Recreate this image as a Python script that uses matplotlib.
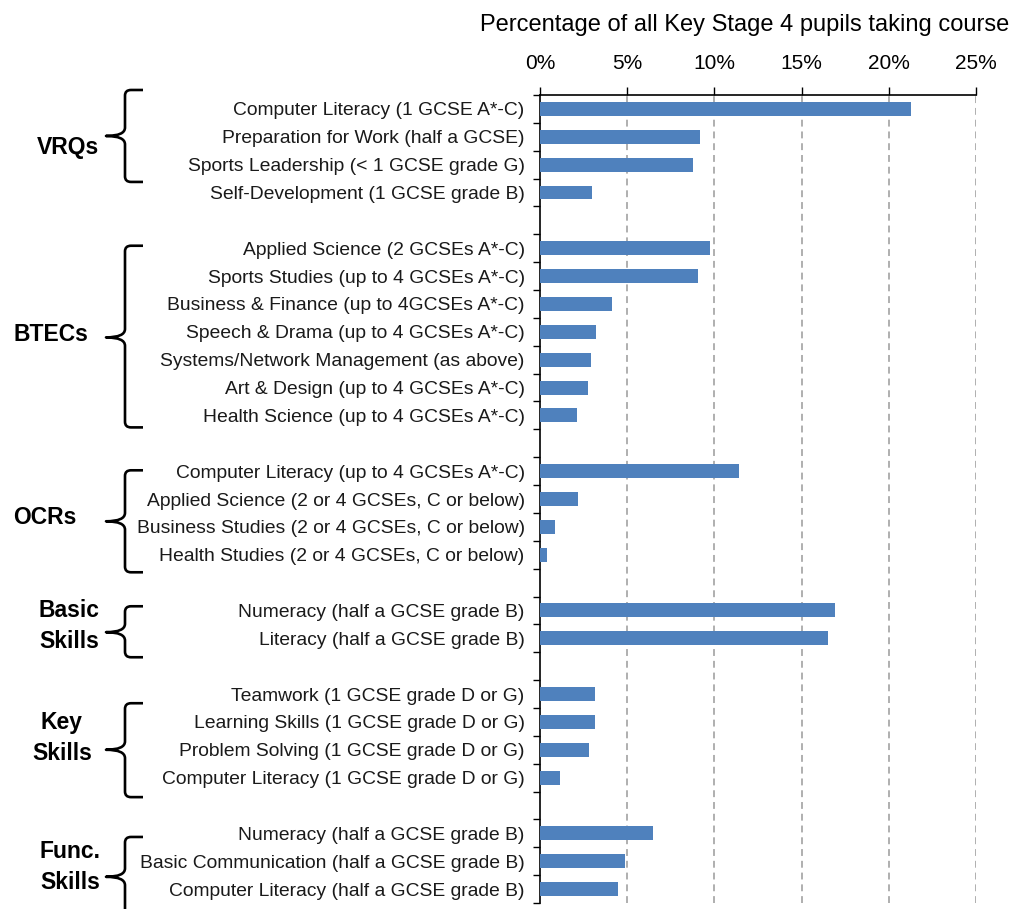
import matplotlib
matplotlib.use("Agg")
import matplotlib.pyplot as plt
from matplotlib.path import Path
from matplotlib.patches import PathPatch
from matplotlib.transforms import blended_transform_factory
from matplotlib.ticker import FuncFormatter, FixedLocator

plt.rcParams['font.family'] = ['Liberation Sans', 'DejaVu Sans']

# Course groups and their courses (top to bottom)
groups = ["VRQs", "BTECs", "OCRs", "Basic\nSkills", "Key\nSkills", "Func.\nSkills"]

vrq_courses = [
    "Computer Literacy (1 GCSE A*-C)",
    "Preparation for Work (half a GCSE)",
    "Sports Leadership (< 1 GCSE grade G)",
    "Self-Development (1 GCSE grade B)",
]
vrq_values = [21.3, 9.2, 8.8, 3.0]

btec_courses = [
    "Applied Science (2 GCSEs A*-C)",
    "Sports Studies (up to 4 GCSEs A*-C)",
    "Business & Finance (up to 4GCSEs A*-C)",
    "Speech & Drama (up to 4 GCSEs A*-C)",
    "Systems/Network Management (as above)",
    "Art & Design (up to 4 GCSEs A*-C)",
    "Health Science (up to 4 GCSEs A*-C)",
]
btec_values = [9.75, 9.05, 4.1, 3.2, 2.9, 2.75, 2.1]

ocr_courses = [
    "Computer Literacy (up to 4 GCSEs A*-C)",
    "Applied Science (2 or 4 GCSEs, C or below)",
    "Business Studies (2 or 4 GCSEs, C or below)",
    "Health Studies (2 or 4 GCSEs, C or below)",
]
ocr_values = [11.4, 2.2, 0.85, 0.4]

basic_courses = [
    "Numeracy (half a GCSE grade B)",
    "Literacy (half a GCSE grade B)",
]
basic_values = [16.9, 16.5]

key_courses = [
    "Teamwork (1 GCSE grade D or G)",
    "Learning Skills (1 GCSE grade D or G)",
    "Problem Solving (1 GCSE grade D or G)",
    "Computer Literacy (1 GCSE grade D or G)",
]
key_values = [3.15, 3.15, 2.8, 1.15]

func_courses = [
    "Numeracy (half a GCSE grade B)",
    "Basic Communication (half a GCSE grade B)",
    "Computer Literacy (half a GCSE grade B)",
]
func_values = [6.5, 4.9, 4.5]

x_ticks = [0, 5, 10, 15, 20, 25]
x_title = "Percentage of all Key Stage 4 pupils taking course"

group_courses = [vrq_courses, btec_courses, ocr_courses,
                 basic_courses, key_courses, func_courses]
group_values = [vrq_values, btec_values, ocr_values,
                basic_values, key_values, func_values]

# Lay the groups out as rows with one empty row between neighbours
positions, labels, values = [], [], []
row = 0
for courses, vals in zip(group_courses, group_values):
    for c, v in zip(courses, vals):
        positions.append(row)
        labels.append(c)
        values.append(v)
        row += 1
    row += 1
n_rows = row - 1

W, H = 1011, 909
fig = plt.figure(figsize=(W / 100, H / 100), dpi=100)
ax = fig.add_axes([540 / W, 1 - 903 / H, 436 / W, 808 / H])

bar_color = "#4F81BD"
ax.barh(positions, values, height=0.5, color=bar_color, zorder=3)

ax.set_xlim(0, 25)
ax.set_ylim(n_rows - 0.5, -0.5)

# x axis on top, percent labels
ax.xaxis.tick_top()
ax.xaxis.set_major_locator(FixedLocator(x_ticks))
ax.xaxis.set_major_formatter(FuncFormatter(lambda v, p: f"{v:.0f}%"))
ax.tick_params(axis="x", which="major", direction="out", length=6, width=1,
               color="black", labelsize=15, pad=10)

# category labels on the left, ticks at row boundaries
ax.set_yticks(positions)
ax.set_yticklabels(labels, fontsize=13.9, color="#1a1a1a")
ax.tick_params(axis="y", which="major", length=0, pad=11)
ax.set_yticks([b - 0.5 for b in range(n_rows + 1)], minor=True)
ax.tick_params(axis="y", which="minor", direction="out", length=5, width=1,
               color="black")

for s in ["right", "bottom"]:
    ax.spines[s].set_visible(False)
for s in ["top", "left"]:
    ax.spines[s].set_color("black")
    ax.spines[s].set_linewidth(1.2)

# dashed vertical gridlines
for t in x_ticks[1:]:
    ax.axvline(t, color="#9a9a9a", lw=1.1, linestyle=(0, (4.5, 3.2)), zorder=1)

fig.text(745 / W, 1 - 25 / H, x_title, ha="center", va="center",
         fontsize=17, color="black")

# Group braces: x in figure fraction, y in row units
trans = blended_transform_factory(fig.transFigure, ax.transData)
brace_spans = [(-0.68, 2.62, 0.97), (4.91, 11.43, 8.2), (12.97, 16.63, 14.8),
               (17.85, 19.68, 18.78), (21.33, 24.7, 23.0), (26.13, 29.8, 27.56)]
label_pos = [(68, 1.40), (51, 8.11), (45, 14.65), (69, 18.56), (62, 22.58),
             (70, 27.21)]
xv, xh, xt = 125 / W, 143 / W, 106 / W
rx = 6 / W
ry_corner = 0.2
ry_tip = 0.3
for (top, bot, mid), name, (lx, ly) in zip(brace_spans, groups, label_pos):
    verts = [
        (xh, top), (xv + rx, top),
        (xv, top), (xv, top + ry_corner),
        (xv, mid - ry_tip),
        (xv, mid), (xt, mid),
        (xv, mid), (xv, mid + ry_tip),
        (xv, bot - ry_corner),
        (xv, bot), (xv + rx, bot),
        (xh, bot),
    ]
    codes = [Path.MOVETO, Path.LINETO,
             Path.CURVE3, Path.CURVE3,
             Path.LINETO,
             Path.CURVE3, Path.CURVE3,
             Path.CURVE3, Path.CURVE3,
             Path.LINETO,
             Path.CURVE3, Path.CURVE3,
             Path.LINETO]
    patch = PathPatch(Path(verts, codes), transform=trans, fill=False,
                      edgecolor="black", lw=1.9, clip_on=False,
                      capstyle="butt", joinstyle="round")
    ax.add_patch(patch)
    ax.text(lx / W, ly, name, transform=trans, ha="center", va="center",
            fontsize=16.5, fontweight="bold", linespacing=1.4,
            color="black")

fig.savefig("out.png", dpi=100)
